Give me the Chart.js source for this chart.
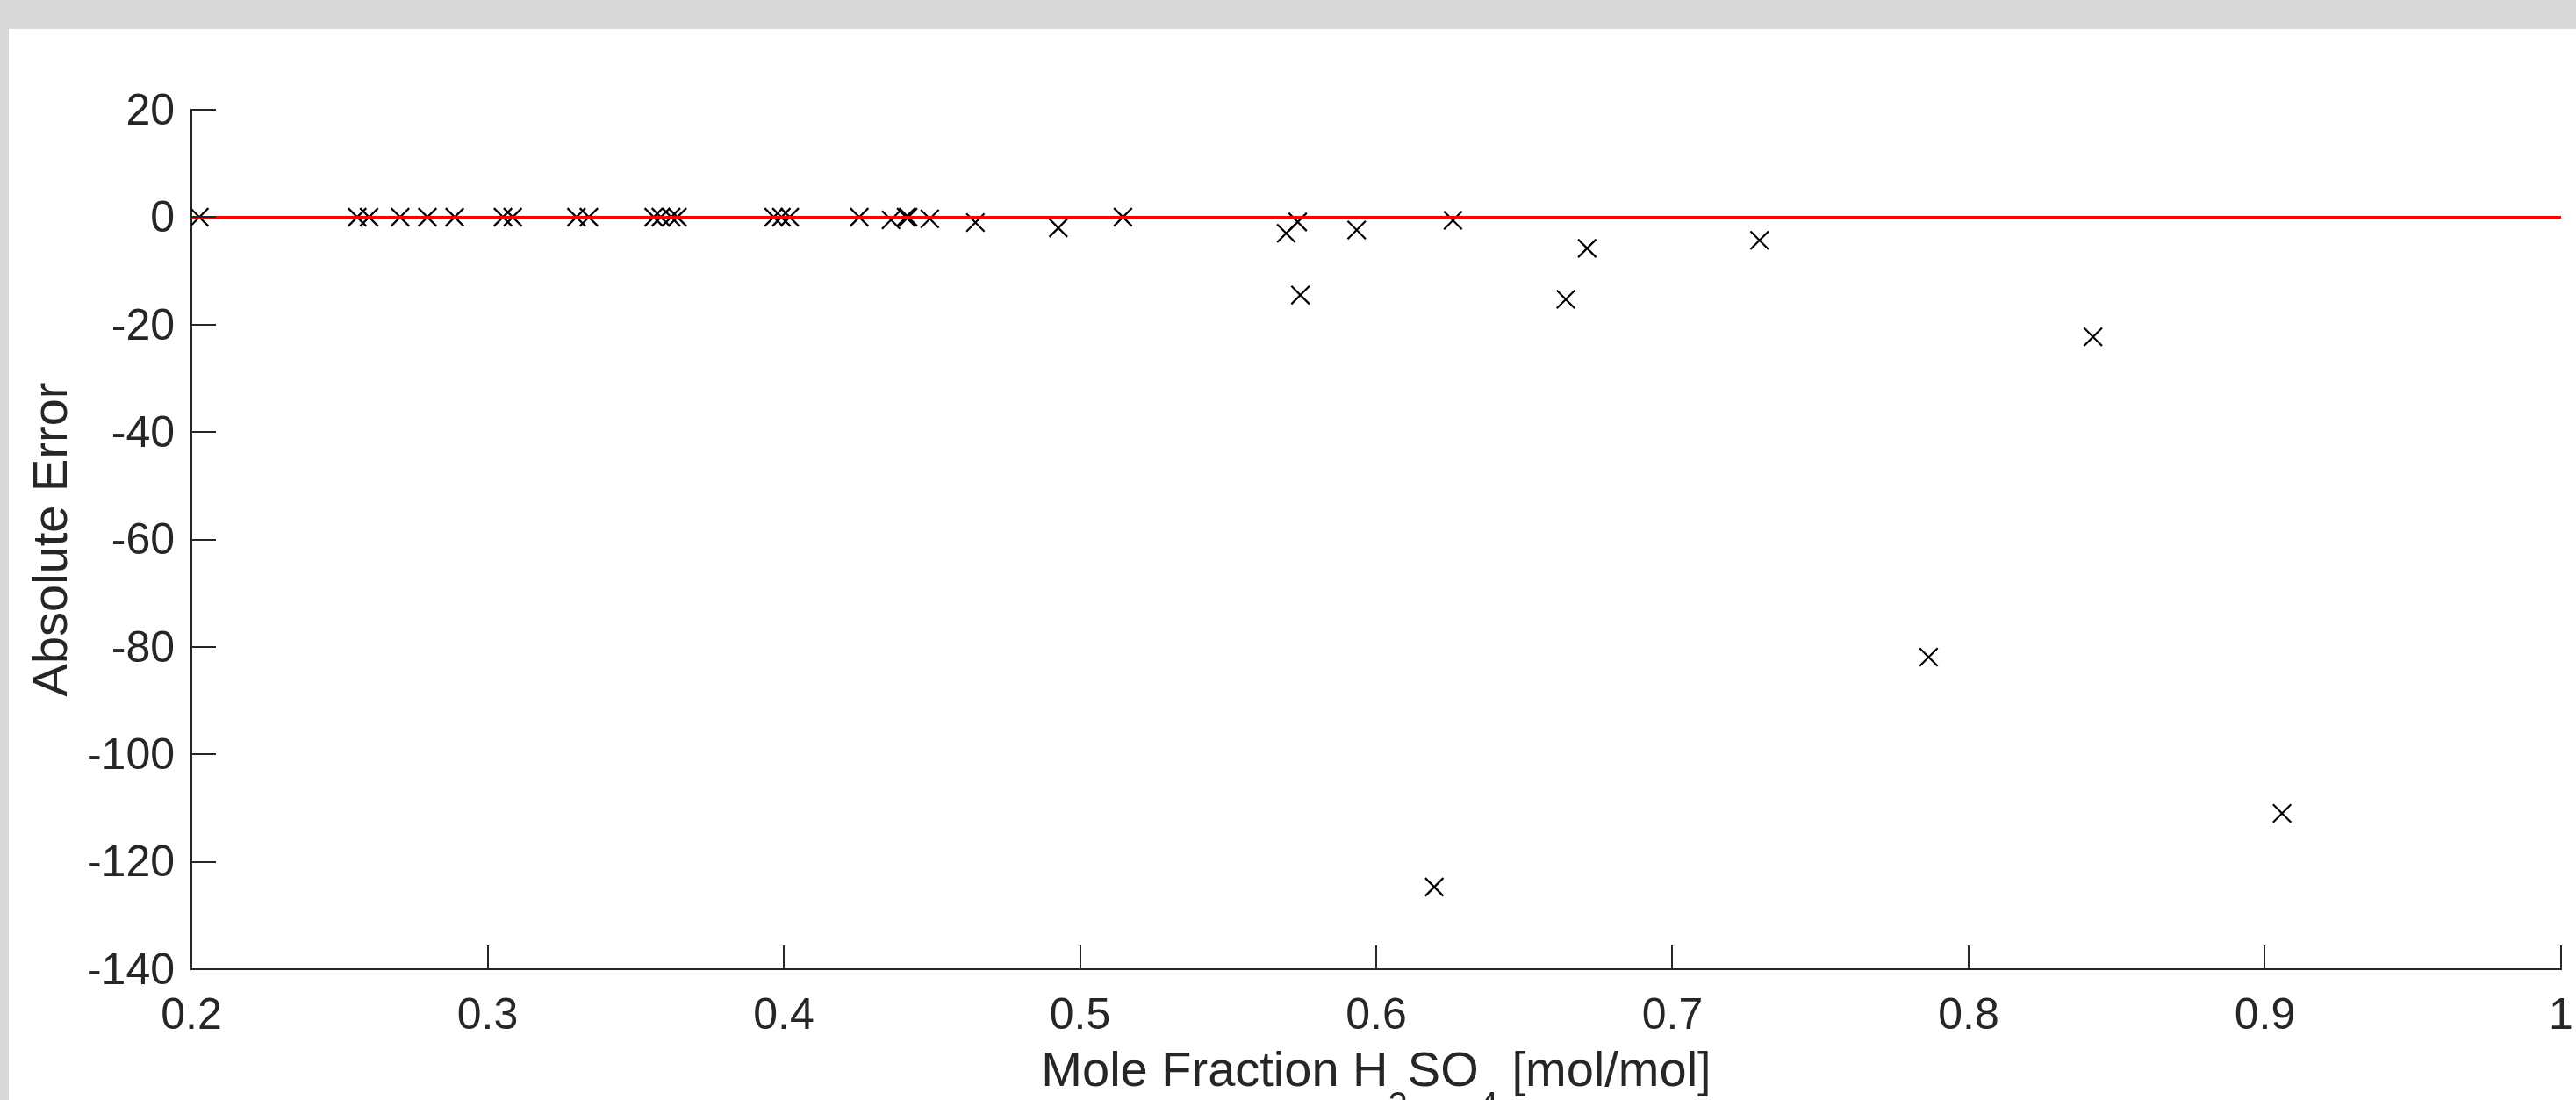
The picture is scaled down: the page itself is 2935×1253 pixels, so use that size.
<!DOCTYPE html>
<html>
<head>
<meta charset="utf-8">
<title>Absolute Error vs Mole Fraction</title>
<script src="https://cdn.jsdelivr.net/npm/chart.js"></script>
<style>
html, body { margin: 0; padding: 0; background: #d9d9d9; overflow: hidden; }
#panel { position: absolute; left: 10px; top: 33px; width: 2925px; height: 1220px; background: #fff; }
canvas { display: block; }
</style>
</head>
<body>
<div id="panel"><canvas id="errChart" width="2925" height="1220"></canvas></div>
<script>
var moleFrac = [0.2027, 0.2560, 0.2600, 0.2705, 0.2797, 0.2889, 0.3052, 0.3085, 0.3300, 0.3342,
                0.3561, 0.3585, 0.3620, 0.3641, 0.3966, 0.3992, 0.4020, 0.4255, 0.4362, 0.4413,
                0.4420, 0.4493, 0.4647, 0.4927, 0.5145, 0.5696, 0.5735, 0.5744, 0.5934, 0.6196,
                0.6259, 0.6640, 0.6712, 0.7294, 0.7865, 0.8420, 0.9058];
var absError = [0, 0, 0, 0, 0, 0, 0, 0, 0, 0,
                0, 0, 0, 0, 0, 0, 0, 0, -0.5, 0,
                0, -0.3, -1.0, -2.0, 0, -3.0, -0.9, -14.5, -2.4, -124.7,
                -0.6, -15.3, -5.8, -4.3, -81.9, -22.3, -111.0];

// zero reference line
var zeroLineX = [0.2, 1];
var zeroLineY = [0, 0];

// axis ranges / ticks
var xRange = [0.2, 1];
var xStep = 0.1;
var yRange = [-140, 20];
var yStep = 20;

var axisColor = '#262626';
var fontFam = "'Liberation Sans', Arial, Helvetica, sans-serif";

function toPoints(xs, ys) {
    return xs.map(function (x, i) { return { x: x, y: ys[i] }; });
}

// MATLAB style ticks pointing into the plot
const inwardTicks = {
    id: 'inwardTicks',
    afterDraw(chart) {
        const ctx = chart.ctx;
        const area = chart.chartArea;
        const xs = chart.scales.x, ys = chart.scales.y;
        ctx.save();
        ctx.strokeStyle = axisColor;
        ctx.lineWidth = 2;
        ctx.beginPath();
        xs.ticks.forEach(t => {
            const px = Math.round(xs.getPixelForValue(t.value));
            ctx.moveTo(px, area.bottom);
            ctx.lineTo(px, area.bottom - 27);
        });
        ys.ticks.forEach(t => {
            const py = Math.round(ys.getPixelForValue(t.value));
            ctx.moveTo(area.left, py);
            ctx.lineTo(area.left + 28, py);
        });
        ctx.stroke();
        ctx.restore();
    }
};

// x axis label with subscripts
const xLabel = {
    id: 'xLabel',
    afterDraw(chart) {
        const ctx = chart.ctx;
        const area = chart.chartArea;
        const parts = [
            { t: 'Mole Fraction H', sub: false },
            { t: '2', sub: true },
            { t: 'SO', sub: false },
            { t: '4', sub: true },
            { t: ' [mol/mol]', sub: false }
        ];
        const mainFont = '56px ' + fontFam;
        const subFont = '40px ' + fontFam;
        ctx.save();
        ctx.fillStyle = axisColor;
        ctx.textBaseline = 'alphabetic';
        ctx.textAlign = 'left';
        let total = 0;
        parts.forEach(p => {
            ctx.font = p.sub ? subFont : mainFont;
            p.w = ctx.measureText(p.t).width;
            total += p.w;
        });
        let x = (area.left + area.right) / 2 - total / 2;
        const base = area.bottom + 133;
        parts.forEach(p => {
            ctx.font = p.sub ? subFont : mainFont;
            ctx.fillText(p.t, x, p.sub ? base + 35 : base);
            x += p.w;
        });
        ctx.restore();
    }
};

const chart = new Chart('errChart', {
    type: 'scatter',
    data: {
        datasets: [{
            label: 'zero',
            data: toPoints(zeroLineX, zeroLineY),
            showLine: true,
            borderColor: '#ff0000',
            borderWidth: 3,
            pointRadius: 0,
            pointHoverRadius: 0
        }, {
            label: 'error',
            data: toPoints(moleFrac, absError),
            showLine: false,
            pointStyle: 'crossRot',
            pointRadius: 14.5,
            pointHoverRadius: 14.5,
            pointBorderWidth: 2.2,
            borderColor: '#000000',
            backgroundColor: '#000000'
        }]
    },
    options: {
        responsive: false,
        animation: false,
        devicePixelRatio: 1,
        layout: { padding: { left: 0, top: 92, right: 17, bottom: 0 } },
        plugins: {
            legend: { display: false },
            tooltip: { enabled: false }
        },
        scales: {
            x: {
                type: 'linear',
                min: xRange[0],
                max: xRange[1],
                grid: { display: false },
                border: { display: true, color: axisColor, width: 2 },
                ticks: {
                    stepSize: xStep,
                    padding: 16,
                    color: axisColor,
                    maxRotation: 0,
                    font: { family: fontFam, size: 50 },
                    callback: v => Number(v.toFixed(1)).toString()
                },
                afterFit: s => { s.height = 149; s.paddingLeft = 0; s.paddingRight = 0; }
            },
            y: {
                type: 'linear',
                min: yRange[0],
                max: yRange[1],
                grid: { display: false },
                border: { display: true, color: axisColor, width: 2 },
                ticks: {
                    stepSize: yStep,
                    padding: 11,
                    labelOffset: 3,
                    color: axisColor,
                    font: { family: fontFam, size: 50 }
                },
                title: {
                    display: true,
                    text: 'Absolute Error',
                    color: axisColor,
                    font: { family: fontFam, size: 56 },
                    padding: { top: 17, bottom: 0 }
                },
                afterFit: s => { s.width = 208; s.paddingTop = 0; s.paddingBottom = 0; }
            }
        }
    },
    plugins: [inwardTicks, xLabel]
});
</script>
</body>
</html>
